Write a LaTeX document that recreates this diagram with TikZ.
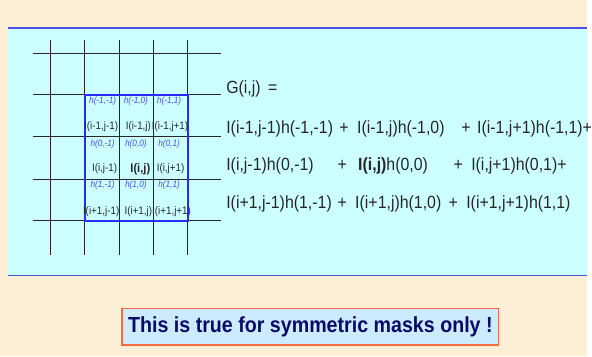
\documentclass[tikz,border=0pt]{standalone}
\usepackage{fontspec}
\setmainfont[FakeStretch=0.9]{Liberation Sans}
\usepackage{xcolor}
\usepackage{tikz}
\usetikzlibrary{positioning}

\definecolor{paper}{HTML}{FCEFD6}
\definecolor{panel}{HTML}{CCFFFF}
\definecolor{rulebl}{HTML}{5050E0}
\definecolor{maskbl}{HTML}{2A2AF5}
\definecolor{hblue}{HTML}{4A4AF0}
\definecolor{ink}{HTML}{262626}
\definecolor{notefill}{HTML}{CCEBFF}
\definecolor{noteedge}{HTML}{FF6A45}
\definecolor{notetext}{HTML}{0A0A66}

\newcommand\eqtxt{\fontsize{17.8}{20}\selectfont}
\newcommand\htxt{\fontsize{9.2}{10}\selectfont\itshape}
\newcommand\itxt{\fontsize{11}{12}\selectfont}
\newcommand\notetxt{\fontsize{22}{24}\selectfont\bfseries}

\begin{document}
\begin{tikzpicture}[x=1pt,y=-1pt,
          every node/.style={inner sep=0pt,font=\eqtxt,text=ink},
          term/.style={anchor=base west},
          plus/.style={anchor=base},
          hlab/.style={anchor=base,font=\htxt,text=hblue},
          ilab/.style={anchor=base,font=\itxt},
          gridline/.style={black!85,line width=1pt},
          mask/.style={maskbl,line width=2pt},
          rule/.style={rulebl,line width=1.5pt}]
        % background and panel
        \fill[paper] (0,0) rectangle (592,359);
        \fill[panel] (8,28) rectangle (592,278);
        \draw[rule] (8,28) -- (592,28);
        \draw[rule] (8,278) -- (592,278);
        % image grid
        \foreach \x in {50.5,85.5,120.5,154.5,189.5}
          \draw[gridline] (\x,40) -- (\x,257);
        \foreach \y in {53.5,95.5,137.5,180.5,222.5}
          \draw[gridline] (33,\y) -- (223,\y);
        \draw[mask] (85.5,95.5) rectangle (189.5,222.5);
        % mask coefficients
        \node[hlab] (hmm) at (103.5,104.5) {h(-1,-1)};
        \node[hlab] (hmz) at (137,104.5) {h(-1,0)};
        \node[hlab] (hmp) at (170.5,104.5) {h(-1,1)};
        \node[hlab] (hzm) at (103.5,147.5) {h(0,-1)};
        \node[hlab] (hzz) at (137,147.5) {h(0,0)};
        \node[hlab] (hzp) at (170.5,147.5) {h(0,1)};
        \node[hlab] (hpm) at (103.5,189.5) {h(1,-1)};
        \node[hlab] (hpz) at (137,189.5) {h(1,0)};
        \node[hlab] (hpp) at (170.5,189.5) {h(1,1)};
        % pixel values
        \node[ilab] (imm) at (102,131) {I(i-1,j-1)};
        \node[ilab] (imz) at (139.5,131) {I(i-1,j)};
        \node[ilab] (imp) at (171.5,131) {I(i-1,j+1)};
        \node[ilab] (izm) at (105.5,173) {I(i,j-1)};
        \node[ilab,font=\fontsize{12.5}{13}\selectfont\bfseries] (izz) at (141.5,173.5) {I(i,j)};
        \node[ilab] (izp) at (172,173) {I(i,j+1)};
        \node[ilab] (ipm) at (102,216) {I(i+1,j-1)};
        \node[ilab] (ipz) at (139.5,216) {I(i+1,j)};
        \node[ilab] (ipp) at (173,216) {I(i+1,j+1)};
        % the sum
        \node[term] (g) at (228,94) {G(i,j)};
        \node[plus] (eq) at (275,94) {=};
        \node[term] (r1a) at (228,134.5) {I(i-1,j-1)h(-1,-1)};
        \node[plus] (p1a) at (347,134.5) {+};
        \node[term] (r1b) at (360,134.5) {I(i-1,j)h(-1,0)};
        \node[plus] (p1b) at (470,134.5) {+};
        \node[term] (r1c) at (481,134.5) {I(i-1,j+1)h(-1,1)+};
        \node[term] (r2a) at (228,172) {I(i,j-1)h(0,-1)};
        \node[plus] (p2a) at (345,172) {+};
        \node[term] (r2b) at (361,172) {\textbf{I(i,j)}h(0,0)};
        \node[plus] (p2b) at (462,172) {+};
        \node[term] (r2c) at (475,172) {I(i,j+1)h(0,1)+};
        \node[term] (r3a) at (228,210.5) {I(i+1,j-1)h(1,-1)};
        \node[plus] (p3a) at (345,210.5) {+};
        \node[term] (r3b) at (358,210.5) {I(i+1,j)h(1,0)};
        \node[plus] (p3b) at (457,210.5) {+};
        \node[term] (r3c) at (470,210.5) {I(i+1,j+1)h(1,1)};
        % remark
        \node[draw=noteedge,fill=notefill,line width=1.3pt,text=notetext,font=\notetxt,
              minimum width=380pt,minimum height=37pt] (note) at (313,329.5)
              {This is true for symmetric masks only !};
      \end{tikzpicture}
\end{document}
